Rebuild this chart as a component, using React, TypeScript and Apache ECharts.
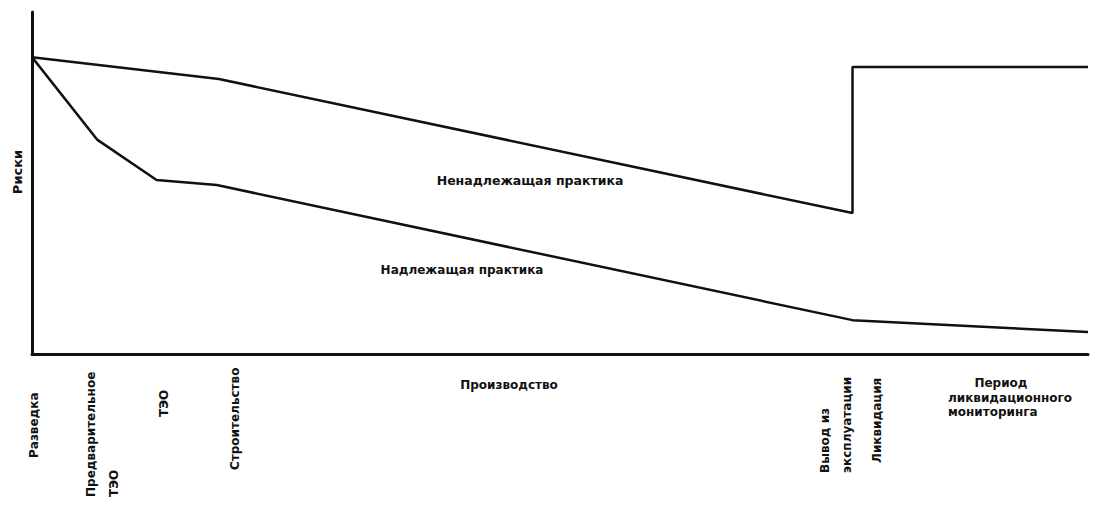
import React, { useEffect, useRef } from "react";
import * as echarts from "echarts";

// Stage positions along the life cycle (0..100) and risk values (0..100)
const poorPracticeX = [0, 17.7, 77.7, 77.7, 100];
const poorPracticeY = [86.8, 80.4, 41.2, 83.9, 83.9];
const goodPracticeX = [0, 6.2, 11.8, 17.5, 77.7, 100];
const goodPracticeY = [86.8, 62.6, 50.9, 49.4, 9.9, 6.4];

const yAxisName = "Риски";
const poorLabel = "Ненадлежащая практика";
const goodLabel = "Надлежащая практика";

// Stage labels (vertical ones) and their layout positions
const verticalStages = ["Разведка", "Предварительное", "ТЭО", "ТЭО", "Строительство", "Вывод из", "экcплуатации", "Ликвидация"];
const verticalStageLayout = [
  [34, 458], [91, 497], [114, 497], [164, 417], [235, 470], [825, 473], [847, 473], [877, 463],
];
const productionLabel = "Производство";
const monitoringLines = ["Период", "ликвидационного", "мониторинга"];

const FONT = "'DejaVu Sans', sans-serif";
const INK = "#111";

export default function App() {
  const ref = useRef<HTMLDivElement>(null);
  useEffect(() => {
    if (!ref.current) return;
    const chart = echarts.init(ref.current, null, { renderer: "svg" });
    const lineStyle = { color: INK, width: 2.5 };
    const graphics: any[] = [];
    verticalStages.forEach((t, i) => {
      graphics.push({
        type: "text",
        x: verticalStageLayout[i][0],
        y: verticalStageLayout[i][1],
        rotation: Math.PI / 2,
        style: { text: t, fill: INK, font: `bold 12px ${FONT}`, align: "left", verticalAlign: "middle" },
      });
    });
    graphics.push({
      type: "text", x: 509, y: 385,
      style: { text: productionLabel, fill: INK, font: `bold 12px ${FONT}`, align: "center", verticalAlign: "middle" },
    });
    graphics.push({
      type: "text", x: 1001, y: 383,
      style: { text: monitoringLines[0], fill: INK, font: `bold 12px ${FONT}`, align: "center", verticalAlign: "middle" },
    });
    graphics.push({
      type: "text", x: 948, y: 398,
      style: { text: monitoringLines[1], fill: INK, font: `bold 12px ${FONT}`, align: "left", verticalAlign: "middle" },
    });
    graphics.push({
      type: "text", x: 948, y: 412,
      style: { text: monitoringLines[2], fill: INK, font: `bold 12px ${FONT}`, align: "left", verticalAlign: "middle" },
    });
    graphics.push({
      type: "text", x: 530, y: 180,
      style: { text: poorLabel, fill: INK, font: `bold 12.5px ${FONT}`, align: "center", verticalAlign: "middle" },
    });
    graphics.push({
      type: "text", x: 462, y: 270,
      style: { text: goodLabel, fill: INK, font: `bold 12px ${FONT}`, align: "center", verticalAlign: "middle" },
    });
    graphics.push({
      type: "text", x: 17, y: 172,
      rotation: Math.PI / 2,
      style: { text: yAxisName, fill: INK, font: `bold 13px ${FONT}`, align: "center", verticalAlign: "middle" },
    });

    chart.setOption({
      animation: false,
      grid: { left: 32, right: 19, top: 12, bottom: 153 },
      xAxis: {
        type: "value", min: 0, max: 100,
        axisLine: { show: true, onZero: false, lineStyle: { color: INK, width: 3 } },
        axisTick: { show: false }, axisLabel: { show: false }, splitLine: { show: false },
      },
      yAxis: {
        type: "value", min: 0, max: 100,
        axisLine: { show: true, lineStyle: { color: INK, width: 3 } },
        axisTick: { show: false }, axisLabel: { show: false }, splitLine: { show: false },
      },
      series: [
        {
          type: "line", name: poorLabel, symbol: "none", lineStyle,
          data: poorPracticeX.map((x, i) => [x, poorPracticeY[i]]),
        },
        {
          type: "line", name: goodLabel, symbol: "none", lineStyle,
          data: goodPracticeX.map((x, i) => [x, goodPracticeY[i]]),
        },
      ],
      graphic: graphics,
    });
    return () => chart.dispose();
  }, []);
  return (
    <div
      ref={ref}
      style={{ position: "fixed", left: 0, top: 0, width: 1107, height: 507, background: "#fff" }}
    />
  );
}
